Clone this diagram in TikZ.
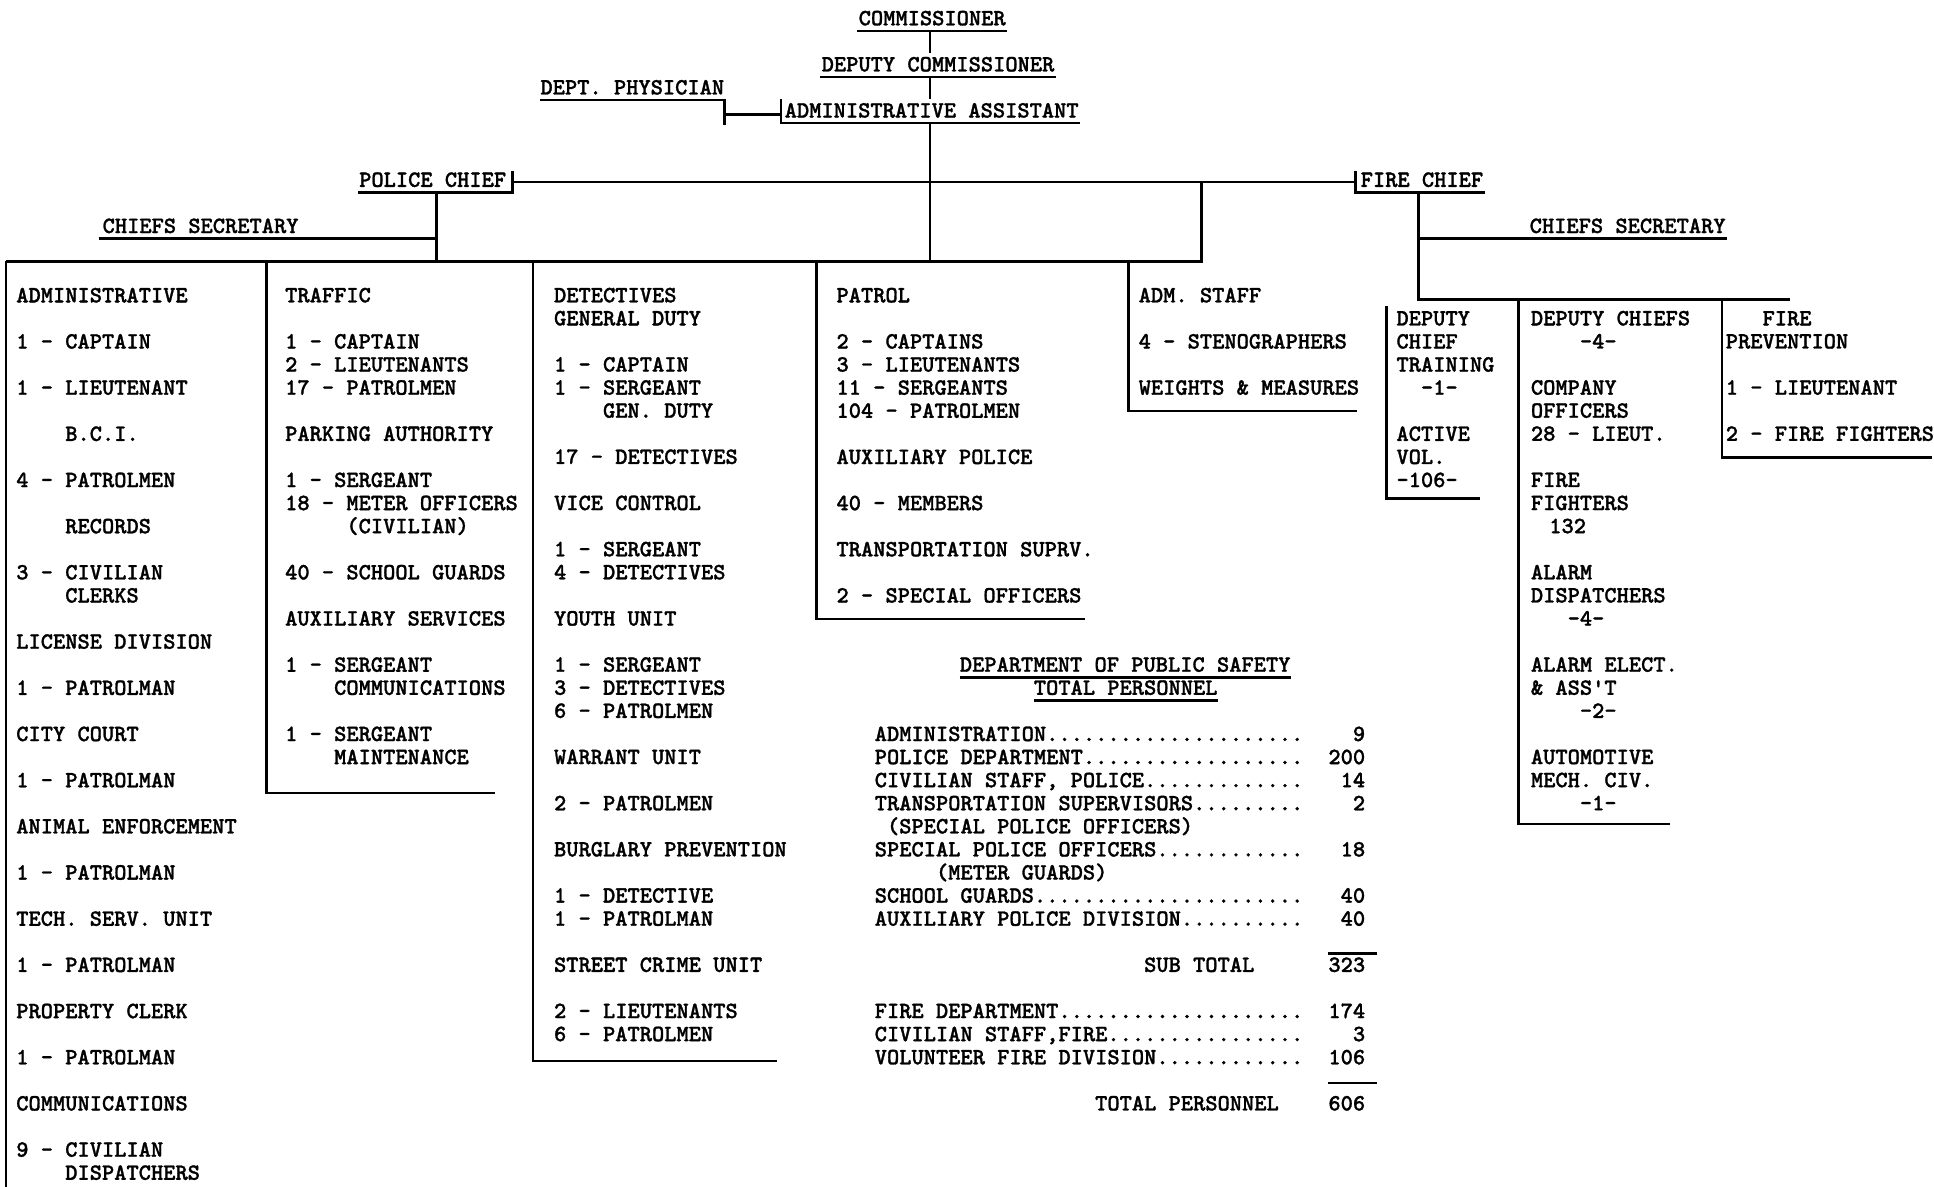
\documentclass[tikz,border=0pt]{standalone}
\usepackage{fontspec}
\newfontfamily\typewr{lmmonolt10-bold}[Extension=.otf, FakeBold=1.2]
\newcommand\tw{\typewr\fontsize{18.91}{18.72}\selectfont}
\newcommand\cols[1]{\hspace*{#1\dimexpr 0.525em\relax}}

\tikzset{
  lbl/.style={font=\tw, inner sep=0pt, anchor=base west, align=left},
  rule/.style={line width=2pt},
}

\begin{document}
\begin{tikzpicture}[x=1pt,y=-1pt]
  \useasboundingbox (0,0) rectangle (1568,962);

  % heads of the department
  \begin{scope}[every node/.style={lbl}]
    \node (comm)   at (696,20.5)   {COMMISSIONER};
    \node (depc)   at (666,57.9)   {DEPUTY COMMISSIONER};
    \node (phys)   at (438,76.6)   {DEPT. PHYSICIAN};
    \node (asst)   at (636,95.3)   {ADMINISTRATIVE ASSISTANT};
    \node (pchief) at (291,151.5)  {POLICE CHIEF};
    \node (fchief) at (1103,151.5) {FIRE CHIEF};
    \node (psec)   at (83,188.9)   {CHIEFS SECRETARY};
    \node (fsec)   at (1240,188.9) {CHIEFS SECRETARY};
  \end{scope}

  % police divisions (multi-line nodes sit on their last line)
  \begin{scope}[every node/.style={lbl}]
    \node (admin) at (13,956.5) {ADMINISTRATIVE\\ \\
      1 - CAPTAIN\\ \\
      1 - LIEUTENANT\\ \\
      \cols{4}B.C.I.\\ \\
      4 - PATROLMEN\\ \\
      \cols{4}RECORDS\\ \\
      3 - CIVILIAN\\
      \cols{4}CLERKS\\ \\
      LICENSE DIVISION\\ \\
      1 - PATROLMAN\\ \\
      CITY COURT\\ \\
      1 - PATROLMAN\\ \\
      ANIMAL ENFORCEMENT\\ \\
      1 - PATROLMAN\\ \\
      TECH. SERV. UNIT\\ \\
      1 - PATROLMAN\\ \\
      PROPERTY CLERK\\ \\
      1 - PATROLMAN\\ \\
      COMMUNICATIONS\\ \\
      9 - CIVILIAN\\
      \cols{4}DISPATCHERS};
    \node (traffic) at (231,619.5) {TRAFFIC\\ \\
      1 - CAPTAIN\\
      2 - LIEUTENANTS\\
      17 - PATROLMEN\\ \\
      PARKING AUTHORITY\\ \\
      1 - SERGEANT\\
      18 - METER OFFICERS\\
      \cols{5}(CIVILIAN)\\ \\
      40 - SCHOOL GUARDS\\ \\
      AUXILIARY SERVICES\\ \\
      1 - SERGEANT\\
      \cols{4}COMMUNICATIONS\\ \\
      1 - SERGEANT\\
      \cols{4}MAINTENANCE};
    \node (detect) at (449,844.1) {DETECTIVES\\
      GENERAL DUTY\\ \\
      1 - CAPTAIN\\
      1 - SERGEANT\\
      \cols{4}GEN. DUTY\\ \\
      17 - DETECTIVES\\ \\
      VICE CONTROL\\ \\
      1 - SERGEANT\\
      4 - DETECTIVES\\ \\
      YOUTH UNIT\\ \\
      1 - SERGEANT\\
      3 - DETECTIVES\\
      6 - PATROLMEN\\ \\
      WARRANT UNIT\\ \\
      2 - PATROLMEN\\ \\
      BURGLARY PREVENTION\\ \\
      1 - DETECTIVE\\
      1 - PATROLMAN\\ \\
      STREET CRIME UNIT\\ \\
      2 - LIEUTENANTS\\
      6 - PATROLMEN};
    \node (patrol) at (678,488.5) {PATROL\\ \\
      2 - CAPTAINS\\
      3 - LIEUTENANTS\\
      11 - SERGEANTS\\
      104 - PATROLMEN\\ \\
      AUXILIARY POLICE\\ \\
      40 - MEMBERS\\ \\
      TRANSPORTATION SUPRV.\\ \\
      2 - SPECIAL OFFICERS};
    \node (staff) at (923,320.0) {ADM. STAFF\\ \\
      4 - STENOGRAPHERS\\ \\
      WEIGHTS \& MEASURES};
  \end{scope}

  % fire divisions
  \begin{scope}[every node/.style={lbl}]
    \node (train) at (1132,394.9) {DEPUTY\\
      CHIEF\\
      TRAINING\\
      \cols{2}-1-\\ \\
      ACTIVE\\
      VOL.\\
      -106-};
    \node (dchiefs) at (1241,656.9) {DEPUTY CHIEFS\\
      \cols{4}-4-\\ \\
      COMPANY\\
      OFFICERS\\
      28 - LIEUT.\\ \\
      FIRE\\
      FIGHTERS\\
      \cols{1.5}132\\ \\
      ALARM\\
      DISPATCHERS\\
      \cols{3}-4-\\ \\
      ALARM ELECT.\\
      \& ASS'T\\
      \cols{4}-2-\\ \\
      AUTOMOTIVE\\
      MECH. CIV.\\
      \cols{4}-1-};
    \node (fprev) at (1399,357.4) {\cols{3}FIRE\\
      PREVENTION\\ \\
      1 - LIEUTENANT\\ \\
      2 - FIRE FIGHTERS};
  \end{scope}

  % personnel totals
  \begin{scope}[every node/.style={lbl}]
    \node (dps)    at (778,544.6) {DEPARTMENT OF PUBLIC SAFETY};
    \node (tphead) at (838,563.3) {TOTAL PERSONNEL};
    \node (items)  at (709,900.3) {ADMINISTRATION.....................\\
      POLICE DEPARTMENT..................\\
      CIVILIAN STAFF, POLICE.............\\
      TRANSPORTATION SUPERVISORS.........\\
      \cols{1}(SPECIAL POLICE OFFICERS)\\
      SPECIAL POLICE OFFICERS............\\
      \cols{5}(METER GUARDS)\\
      SCHOOL GUARDS......................\\
      AUXILIARY POLICE DIVISION..........\\ \\
      \cols{22}SUB TOTAL\\ \\
      FIRE DEPARTMENT....................\\
      CIVILIAN STAFF,FIRE................\\
      VOLUNTEER FIRE DIVISION............\\ \\
      \cols{18}TOTAL PERSONNEL};
    \node (counts) [anchor=base east, align=right] at (1107,900.3) {9\\
      200\\
      14\\
      2\\ \\
      18\\ \\
      40\\
      40\\ \\
      323\\ \\
      174\\
      3\\
      106\\ \\
      606};
  \end{scope}

  % junctions
  \coordinate (spine)   at (754,212);
  \coordinate (pstem)   at (354,212);
  \coordinate (pbar-l)  at (5,212);
  \coordinate (pbar-r)  at (974,212);
  \coordinate (adm-bot) at (5,962);
  \coordinate (trf-top) at (216,212);
  \coordinate (trf-bot) at (401,643);
  \coordinate (det-top) at (432,212);
  \coordinate (det-bot) at (630,860);
  \coordinate (pat-top) at (662,212);
  \coordinate (pat-bot) at (880,502);
  \coordinate (stf-top) at (915,212);
  \coordinate (stf-bot) at (1100,333);
  \coordinate (fbar-l)  at (1150,243);
  \coordinate (fbar-r)  at (1451,243);
  \coordinate (trn-top) at (1124,248);
  \coordinate (trn-bot) at (1200,404);
  \coordinate (dch-top) at (1231,243);
  \coordinate (dch-bot) at (1354,668);
  \coordinate (fpv-top) at (1396,243);
  \coordinate (fpv-bot) at (1566,371);
  \coordinate (sub-l)   at (1077,773);
  \coordinate (sub-r)   at (1116,773);
  \coordinate (tot-l)   at (1077,878);
  \coordinate (tot-r)   at (1116,878);

  % commissioner down to the chiefs
  \draw[rule] ([shift={(-1,4.5)}]comm.base west) -- ([shift={(1,4.5)}]comm.base east);
  \draw[rule] ([yshift=-4.5pt]spine |- comm.base) -- ([yshift=15pt]spine |- depc.base);
  \draw[rule] ([shift={(-1,4.5)}]depc.base west) -- ([shift={(1,4.5)}]depc.base east);
  \draw[rule] ([yshift=-4.5pt]spine |- depc.base) -- ([yshift=15pt]spine |- asst.base);
  \draw[rule] ([shift={(-3,-15)}]asst.base west) -- ([shift={(-3,4.5)}]asst.base west)
    -- ([shift={(1,4.5)}]asst.base east);
  \draw[rule] ([yshift=-4.5pt]spine |- asst.base) -- (spine);
  \draw[rule] ([shift={(0,4.5)}]phys.base west) -- ([shift={(0,4.5)}]phys.base east)
    -- ([shift={(0,24.5)}]phys.base east);
  \draw[rule] ([shift={(-3,-2.3)}]asst.base west) -- ++(-46,0);

  % police chief and fire chief
  \draw[rule] ([shift={(5,-12.5)}]pchief.base east) -- ([shift={(5,4.5)}]pchief.base east)
    -- ([shift={(-1,4.5)}]pchief.base west);
  \draw[rule] ([shift={(5,-4)}]pchief.base east) -- ([shift={(-4,-4)}]fchief.base west);
  \draw[rule] ([shift={(-4,-12.5)}]fchief.base west) -- ([shift={(-4,4.5)}]fchief.base west)
    -- ([shift={(1,4.5)}]fchief.base east);
  \draw[rule] ([yshift=-4.5pt]pstem |- pchief.base) -- (pstem);
  \draw[rule] ([shift={(-3,4.5)}]psec.base west) -- ([yshift=-4.5pt]pstem |- psec.base);
  \draw[rule] (pbar-l) -- (pbar-r) -- ([yshift=4pt]pbar-r |- pchief.base);

  % police brackets
  \draw[rule] (pbar-l) -- (adm-bot);
  \draw[rule] (trf-top) |- (trf-bot);
  \draw[rule] (det-top) |- (det-bot);
  \draw[rule] (pat-top) |- (pat-bot);
  \draw[rule] (stf-top) |- (stf-bot);

  % fire brackets
  \draw[rule] ([yshift=-4.5pt]fbar-l |- fchief.base) -- (fbar-l) -- (fbar-r);
  \draw[rule] ([yshift=-4.5pt]fbar-l |- fsec.base) -- ([shift={(1,4.5)}]fsec.base east);
  \draw[rule] (trn-top) |- (trn-bot);
  \draw[rule] (dch-top) |- (dch-bot);
  \draw[rule] (fpv-top) |- (fpv-bot);

  % totals
  \draw[rule] ([shift={(0,4.5)}]dps.base west) -- ([shift={(0,4.5)}]dps.base east);
  \draw[rule] ([shift={(0,4.5)}]tphead.base west) -- ([shift={(0,4.5)}]tphead.base east);
  \draw[rule] (sub-l) -- (sub-r);
  \draw[rule] (tot-l) -- (tot-r);

\end{tikzpicture}
\end{document}
